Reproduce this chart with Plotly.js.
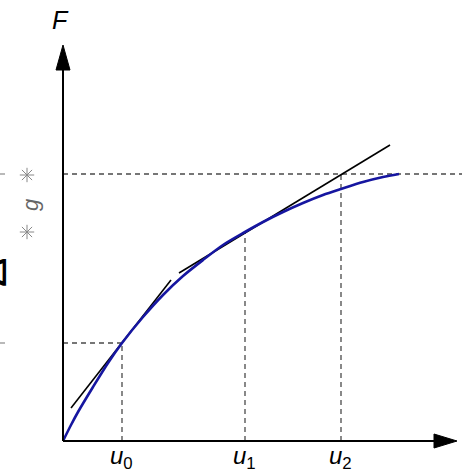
<!DOCTYPE html>
<html>
<head>
<meta charset="utf-8">
<script src="https://cdn.plot.ly/plotly-3.0.1.min.js"></script>
<style>html,body{margin:0;padding:0;background:#fff;}#chart{width:474px;height:474px;}</style>
</head>
<body>
<div id="chart"></div>
<script>
// curve F(u)
const curveU = [0, 8, 15, 30, 45, 59, 80, 100, 120, 140, 160, 182, 200, 220, 240, 260, 278, 300, 320, 336];
const curveF = [0, 16, 29, 54, 78, 98, 124, 146, 165, 181, 196, 209, 219, 229, 238, 246, 252, 259, 264, 267];
// iteration points
const iterLabels = ["u<sub>0</sub>", "u<sub>1</sub>", "u<sub>2</sub>"];
const iterU = [59, 182, 278];
const iterF = [98, 209, 267];
const targetF = 267;
// tangent segments
const tan1U = [8, 108];
const tan1F = [33, 161];
const tan2U = [116, 327];
const tan2F = [168, 296];
// gap marks on the left
const gapU = [-36, -36];
const gapF = [266, 209];

const dashStyle = {color: '#4a4a4a', width: 1.3, dash: '5px,4px'};
const traces = [];
traces.push({x: [0, iterU[0]], y: [iterF[0], iterF[0]], mode: 'lines', line: dashStyle, hoverinfo: 'skip'});
traces.push({x: [0, 399], y: [targetF, targetF], mode: 'lines', line: dashStyle, hoverinfo: 'skip'});
for (let i = 0; i < iterU.length; i++) {
  traces.push({x: [iterU[i], iterU[i]], y: [0, iterF[i]], mode: 'lines', line: dashStyle, hoverinfo: 'skip'});
}
const fragStyle = {color: '#8a8a8a', width: 1.2};
traces.push({x: [-63, -58], y: [iterF[0], iterF[0]], mode: 'lines', line: fragStyle, hoverinfo: 'skip'});
traces.push({x: [-63, -58], y: [targetF, targetF], mode: 'lines', line: fragStyle, hoverinfo: 'skip'});
traces.push({x: tan1U, y: tan1F, mode: 'lines', line: {color: '#000', width: 1.6}, hoverinfo: 'skip'});
traces.push({x: tan2U, y: tan2F, mode: 'lines', line: {color: '#000', width: 1.6}, hoverinfo: 'skip'});
traces.push({x: curveU, y: curveF, mode: 'lines', line: {color: '#1616a0', width: 2.6, shape: 'spline', smoothing: 0.8}, hoverinfo: 'skip'});
traces.push({x: gapU, y: gapF, mode: 'markers', marker: {symbol: 'asterisk-open', size: 12, color: '#888', line: {color: '#888', width: 1}}, hoverinfo: 'skip'});

const fontFam = 'Liberation Sans, Arial, sans-serif';
const annotations = [];
for (let i = 0; i < iterU.length; i++) {
  annotations.push({x: iterU[i] - 1, y: -16, xref: 'x', yref: 'y', text: '<i>' + iterLabels[i].replace('u', 'u</i>'),
    showarrow: false, xanchor: 'center', yanchor: 'middle', font: {size: 24, color: '#000', family: fontFam}});
}
annotations.push({x: -3, y: 421, xref: 'x', yref: 'y', text: '<i>F</i>', showarrow: false, xanchor: 'center', yanchor: 'middle',
  font: {size: 25, color: '#000', family: fontFam}});
annotations.push({x: -33, y: 236, xref: 'x', yref: 'y', text: '<i>g</i>', showarrow: false, textangle: -90,
  font: {size: 22, color: '#666', family: fontFam}});
annotations.push({x: -10 / 474, y: (441 - 273) / 474 + 33 / 474, xref: 'paper', yref: 'paper', text: 'Δ', showarrow: false, textangle: -90,
  xanchor: 'center', yanchor: 'middle', font: {size: 44, color: '#000', family: fontFam}});

const shapes = [
  {type: 'line', xref: 'x', yref: 'y', x0: 0, y0: 0, x1: 0, y1: 372, line: {color: '#000', width: 2}},
  {type: 'path', xref: 'x', yref: 'y', path: 'M -7 371 L 7 371 L 0 396 Z', fillcolor: '#000', line: {color: '#000', width: 1}},
  {type: 'line', xref: 'x', yref: 'y', x0: 0, y0: 0, x1: 372, y1: 0, line: {color: '#000', width: 2}},
  {type: 'path', xref: 'x', yref: 'y', path: 'M 371 -7 L 371 7 L 394 0 Z', fillcolor: '#000', line: {color: '#000', width: 1}}
];

const layout = {
  width: 474, height: 474,
  margin: {l: 0, r: 0, t: 0, b: 0},
  paper_bgcolor: '#fff', plot_bgcolor: '#fff',
  showlegend: false,
  xaxis: {range: [-63, 411], visible: false, fixedrange: true},
  yaxis: {range: [-33, 441], visible: false, fixedrange: true},
  shapes: shapes,
  annotations: annotations
};
Plotly.newPlot('chart', traces, layout, {displayModeBar: false, staticPlot: true});
</script>
</body>
</html>
